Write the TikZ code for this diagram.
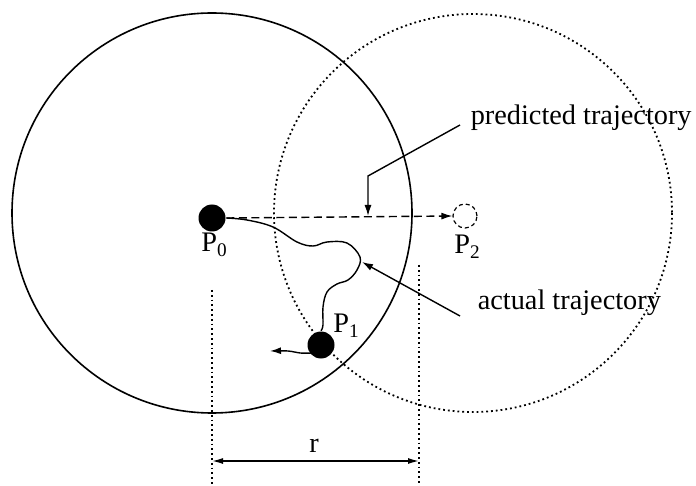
\documentclass[tikz,border=0pt]{standalone}
\usepackage{fontspec}
\setmainfont{Liberation Serif}
\usetikzlibrary{arrows.meta}
\newcommand\subidx[1]{\raisebox{-0.35ex}{\scalebox{0.68}{#1}}}
\begin{document}
\begin{tikzpicture}[x=1pt,y=-1pt, line width=1.6pt,
  lbl/.style={font=\fontsize{28.3}{34}\selectfont, inner sep=0pt},
  ball/.style={circle, fill=black, minimum size=27pt, inner sep=0pt},
  ghost/.style={circle, draw, dash pattern=on 4pt off 3pt, minimum size=24pt, inner sep=0pt, line width=1.2pt},
  tipped/.style={-{Latex[length=11pt,width=7pt]}},
  dots/.style={dash pattern=on 1.8pt off 3pt, line width=1.8pt},
  wave/.style={line width=1.4pt}]
\useasboundingbox (0,0) rectangle (696,486);
% circles
\draw (212,213) circle[radius=200];
\draw[dots] (473,213) circle[radius=199];
% points
\node[ball] (P0) at (212,218) {};
\node[ball] (P1) at (321,345) {};
\node[ghost] (P2) at (465,216) {};
\node[lbl, anchor=base] (L0) at (214,252) {P\subidx{0}};
\node[lbl, anchor=base] (L1) at (346,333) {P\subidx{1}};
\node[lbl, anchor=base] (L2) at (467,254) {P\subidx{2}};
% predicted trajectory
\draw[tipped, dash pattern=on 8pt off 4.5pt, line width=1.4pt] (P0.east) -- (P2.west);
% actual trajectory
\draw[wave] plot[smooth, tension=0.6] coordinates {(P0.east) (247,220) (273,227) (297,242) (313,246) (327,242) (347,243) (360,257) (357,270) (348,280) (337,284) (327,292) (323,307) (323,325) (P1.north)};
\draw[wave, tipped] plot[smooth, tension=0.6] coordinates {(312,353) (300,353) (288,351) (270,351)};
% labels
\node[lbl, anchor=base west] (pt) at (470,125) {predicted trajectory};
\node[lbl, anchor=base west] (at) at (477,309) {actual trajectory};
\coordinate (pa) at (460,125);
\coordinate (pb) at (368,176);
\coordinate (pc) at (368,216);
\draw[tipped, line width=1.4pt] (pa) -- (pb) -- (pc);
\coordinate (aa) at (460,316);
\coordinate (ab) at (362,262);
\draw[tipped, line width=1.4pt] (aa) -- (ab);
% dimension
\coordinate (d1) at (212,290);
\coordinate (d2) at (212,486);
\coordinate (d3) at (419,265);
\coordinate (d4) at (419,486);
\draw[dots] (d1) -- (d2);
\draw[dots] (d3) -- (d4);
\coordinate (r1) at (212,461);
\coordinate (r2) at (419,461);
\draw[{Latex[length=11pt,width=6pt]}-{Latex[length=11pt,width=6pt]}, line width=1.4pt] (r1) -- (r2);
\node[lbl, anchor=base] (rl) at (314,452) {r};
\end{tikzpicture}
\end{document}
